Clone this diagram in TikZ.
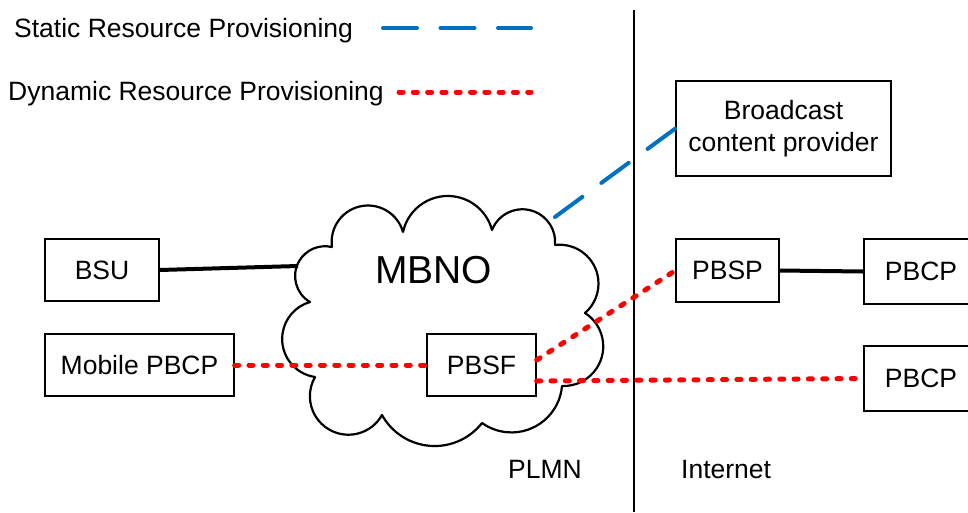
\documentclass[tikz,border=0pt]{standalone}
\usepackage{fontspec}
\setmainfont{Liberation Sans}
\usetikzlibrary{calc}
\definecolor{sblue}{RGB}{0,112,192}
\definecolor{dred}{RGB}{255,0,0}
\begin{document}
\begin{tikzpicture}[x=1pt,y=-1pt,
  box/.style={draw,line width=1.3pt,inner sep=0pt,font=\fontsize{26.5}{32}\selectfont,align=center},
  lbl/.style={font=\fontsize{26.5}{32}\selectfont,inner sep=0pt},
  static/.style={sblue,line width=4pt,line cap=round,dash pattern=on 34pt off 23.5pt},
  dynamic/.style={dred,line width=5pt,line cap=round,dash pattern=on 4pt off 10.3pt},
  solidlink/.style={black,line width=4pt},
  cloudline/.style={line width=2.2pt,line cap=round,line join=round}]
\useasboundingbox (0,0) rectangle (968,512);
% legend
\node[lbl,anchor=base west] (lstatic) at (14,37) {Static Resource Provisioning};
\node[lbl,anchor=base west] (ldynamic) at (8,100) {Dynamic Resource Provisioning};
\coordinate (ls1) at (383,28); \coordinate (ls2) at (531,28);
\coordinate (ld1) at (399,92); \coordinate (ld2) at (531,92);
\draw[static] (ls1) -- (ls2);
\draw[dynamic] (ld1) -- (ld2);
% divider
\coordinate (vtop) at (634,10); \coordinate (vbot) at (634,512);
\draw[line width=1.3pt] (vtop) -- (vbot);
% cloud (puffs as circular arcs between cusps)
\coordinate (cA) at (310,302); \coordinate (cB) at (332,247);
\coordinate (cC) at (403,232); \coordinate (cD) at (492,230);
\coordinate (cE) at (555,245); \coordinate (cF) at (585,313);
\coordinate (cG) at (562,386); \coordinate (cH) at (482,423);
\coordinate (cI) at (382,415); \coordinate (cJ) at (315,377);
\draw[cloudline]
  (cA) arc[start angle=239.9,end angle=76.5,radius=29.9pt]
  (cB) arc[start angle=188.1,end angle=15.8,radius=36.36pt]
  (cC) arc[start angle=167.7,end angle=14.86,radius=45.79pt]
  (cD) arc[start angle=158.5,end angle=-5.25,radius=32.71pt]
  (cE) arc[start angle=96.86,end angle=-49.25,radius=38.85pt]
  (cF) arc[start angle=57.29,end angle=-92.25,radius=39.66pt]
  (cG) arc[start angle=-4.84,end angle=-125.5,radius=50.7pt]
  (cH) arc[start angle=-38.14,end angle=-151.0,radius=60.2pt]
  (cI) arc[start angle=-29.23,end angle=-209.9,radius=38.51pt]
  (cJ) arc[start angle=261.63,end angle=105.99,radius=38.45pt];
\node[font=\fontsize{39}{44}\selectfont,inner sep=0pt,anchor=base west] (mbno) at (375,283) {MBNO};
% boxes
\node[box,minimum width=114pt,minimum height=62pt] (bsu) at (102,270) {BSU};
\node[box,minimum width=189pt,minimum height=62pt] (mpbcp) at (139.5,365) {Mobile PBCP};
\node[box,minimum width=109pt,minimum height=62pt] (pbsf) at (481.5,365) {PBSF};
\node[box,minimum width=215pt,minimum height=95pt] (bcp) at (783.5,128.5) {Broadcast\\content provider};
\node[box,minimum width=103pt,minimum height=63pt] (pbsp) at (727.5,270.5) {PBSP};
\node[box,minimum width=114pt,minimum height=65pt] (pbcp1) at (921,271.5) {PBCP};
\node[box,minimum width=114pt,minimum height=65pt] (pbcp2) at (921,378.5) {PBCP};
% region labels
\node[lbl,anchor=base west] (plmn) at (508,478) {PLMN};
\node[lbl,anchor=base west] (inet) at (681,478) {Internet};
% connectors
\coordinate (cw) at (298,266);
\coordinate (cne) at (555,217);
\draw[solidlink] (bsu.east) -- (cw);
\draw[static] (cne) -- (bcp.west);
\draw[dynamic] (mpbcp.east) -- (pbsf.west);
\draw[dynamic] ([yshift=5pt]pbsf.east) -- (pbsp.west);
\draw[dynamic] ([yshift=-16pt]pbsf.east) -- (pbcp2.west);
\draw[solidlink] (pbsp.east) -- (pbcp1.west);
\end{tikzpicture}
\end{document}
